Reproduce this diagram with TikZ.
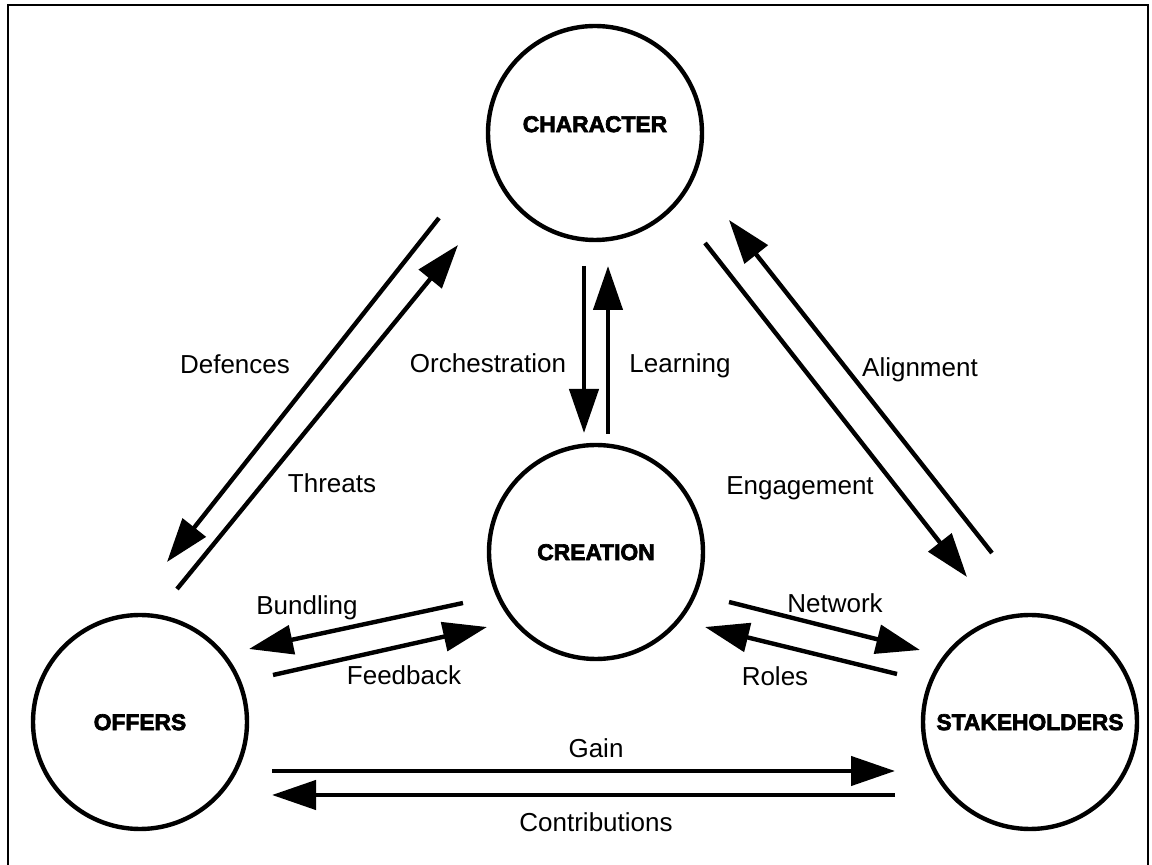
\documentclass[tikz,border=0pt]{standalone}
\usepackage{fontspec}
\setmainfont{Liberation Sans}
\newfontfamily\heavyfont[FakeBold=3]{Liberation Sans}
\usetikzlibrary{arrows.meta}
\begin{document}
\begin{tikzpicture}[x=0.5pt,y=-0.5pt,
  circ/.style={circle,draw,line width=2.2pt,minimum size=107pt,inner sep=0pt,
    font=\heavyfont\bfseries\fontsize{11.4pt}{13pt}\selectfont,text height=8.1pt,text depth=0pt},
  lbl/.style={inner sep=0pt,font=\fontsize{13pt}{15pt}\selectfont,text height=9.3pt,text depth=0pt},
  arr/.style={line width=2.2pt,-{Triangle[length=22pt,width=14.5pt]}},
  frame/.style={line width=0.8pt}
]
\useasboundingbox (0,0) rectangle (1152,865);
\begin{scope}
  \clip (0,0) rectangle (1152,865);
  \draw[frame] (8,5) rectangle (1148,885);
\end{scope}

% circles
\node[circ,text depth=9pt] (char) at (595,133) {CHARACTER};
\node[circ] (crea) at (596,552) {CREATION};
\node[circ] (off)  at (140,722) {OFFERS};
\node[circ] (stak) at (1030,722) {STAKEHOLDERS};

% arrow end points
\coordinate (orchA) at (584,266);  \coordinate (orchB) at (584,433);
\coordinate (learA) at (608,434);  \coordinate (learB) at (608,266);
\coordinate (defA)  at (439,218);  \coordinate (defB)  at (167,562);
\coordinate (thrA)  at (177,589);  \coordinate (thrB)  at (458,245);
\coordinate (engA)  at (705,243);  \coordinate (engB)  at (967,577);
\coordinate (aliA)  at (992,553);  \coordinate (aliB)  at (729,220);
\coordinate (bunA)  at (463,603);  \coordinate (bunB)  at (249,649);
\coordinate (feeA)  at (273,675);  \coordinate (feeB)  at (487,627);
\coordinate (netA)  at (729,602);  \coordinate (netB)  at (920,650);
\coordinate (rolA)  at (897,674);  \coordinate (rolB)  at (705,627);
\coordinate (gaiA)  at (272,771);  \coordinate (gaiB)  at (895,771);
\coordinate (conA)  at (895,795);  \coordinate (conB)  at (272,795);

% arrows
\draw[arr] (orchA) -- (orchB);
\draw[arr] (learA) -- (learB);
\draw[arr] (defA) -- (defB);
\draw[arr] (thrA) -- (thrB);
\draw[arr] (engA) -- (engB);
\draw[arr] (aliA) -- (aliB);
\draw[arr] (bunA) -- (bunB);
\draw[arr] (feeA) -- (feeB);
\draw[arr] (netA) -- (netB);
\draw[arr] (rolA) -- (rolB);
\draw[arr] (gaiA) -- (gaiB);
\draw[arr] (conA) -- (conB);

% labels
\node[lbl] (ldef) at (235,364) {Defences};
\node[lbl] (lthr) at (332,483) {Threats};
\node[lbl] (lorc) at (488,363) {Orchestration};
\node[lbl] (llea) at (680,363) {Learning};
\node[lbl] (lali) at (920,367) {Alignment};
\node[lbl] (leng) at (800,485) {Engagement};
\node[lbl] (lbun) at (307,605) {Bundling};
\node[lbl] (lfee) at (404,675) {Feedback};
\node[lbl] (lnet) at (835,603) {Network};
\node[lbl] (lrol) at (775,676) {Roles};
\node[lbl] (lgai) at (596,748) {Gain};
\node[lbl] (lcon) at (596,822) {Contributions};
\end{tikzpicture}
\end{document}
